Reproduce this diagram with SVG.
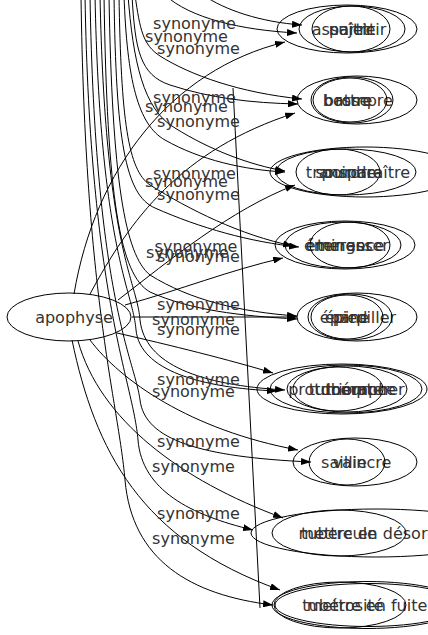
<svg xmlns="http://www.w3.org/2000/svg" width="428" height="635" viewBox="0 0 428 635">
<style>
  .n ellipse{fill:none;stroke:#000;stroke-width:1}
  .n text{font-family:"DejaVu Sans",sans-serif;font-size:16px;fill:#333;text-anchor:middle}
  .e path{fill:none;stroke:#000;stroke-width:1}
  .lbl text{font-family:"DejaVu Sans",sans-serif;font-size:16px;fill:#333;text-anchor:middle}
</style>
<defs>
  <marker id="ah" viewBox="0 0 10 7" refX="10" refY="3.5" markerWidth="10" markerHeight="7" markerUnits="userSpaceOnUse" orient="auto">
    <path d="M0,0 L10,3.5 L0,7 Z" fill="#000"/>
  </marker>
</defs>
<rect width="428" height="635" fill="#fff"/>
<g id="connectors" class="e">
  <path marker-end="url(#ah)" d="M165,-5 C190,18 240,30 297,33"/>
  <path marker-end="url(#ah)" d="M203,-5 C225,10 260,22 302,25"/>
  <path marker-end="url(#ah)" d="M74,294 C95,170 170,70 285,42"/>
  <path marker-end="url(#ah)" d="M135,-5 C140,30 143,45 160,56 C190,75 240,93 302,99"/>
  <path marker-end="url(#ah)" d="M132,-5 C135,50 140,75 170,85 C210,98 250,103 298,104"/>
  <path marker-end="url(#ah)" d="M90,294 C130,220 180,150 295,113"/>
  <path marker-end="url(#ah)" d="M128,-5 C133,60 143,110 175,128 C210,150 250,165 285,171"/>
  <path marker-end="url(#ah)" d="M124,-5 C127,80 138,125 165,140 C200,160 245,170 285,172"/>
  <path marker-end="url(#ah)" d="M118,300 C170,260 230,210 295,185"/>
  <path marker-end="url(#ah)" d="M119,-5 C121,120 128,170 150,185 C190,210 240,235 293,246"/>
  <path marker-end="url(#ah)" d="M114,-5 C116,140 125,195 155,208 C200,228 250,242 299,247"/>
  <path marker-end="url(#ah)" d="M125,305 C180,290 230,270 283,258"/>
  <path marker-end="url(#ah)" d="M132,317 L297,317"/>
  <path marker-end="url(#ah)" d="M109,-5 C112,180 125,255 150,275 C190,300 240,312 297,316"/>
  <path marker-end="url(#ah)" d="M104,-5 C107,200 120,275 150,292 C190,310 240,316 297,319"/>
  <path marker-end="url(#ah)" d="M117,333 C170,345 230,360 273,373"/>
  <path marker-end="url(#ah)" d="M100,-5 C105,250 137,280 140,320 C145,365 200,385 285,390"/>
  <path marker-end="url(#ah)" d="M95,-5 C100,250 133,290 136,330 C140,370 200,388 277,391"/>
  <path marker-end="url(#ah)" d="M90,340 C120,380 190,430 298,450"/>
  <path marker-end="url(#ah)" d="M90,-5 C95,300 135,360 140,400 C145,440 200,457 311,462"/>
  <path marker-end="url(#ah)" d="M78,341 C100,420 180,480 283,518"/>
  <path marker-end="url(#ah)" d="M85,-5 C90,300 133,380 138,440 C142,490 190,515 253,530"/>
  <path marker-end="url(#ah)" d="M72,340 C95,450 140,540 280,590"/>
  <path marker-end="url(#ah)" d="M81,-5 C85,300 118,400 125,480 C132,560 190,595 273,605"/>
  <path d="M233,88 L260,608" stroke-width="0.7"/>
</g>
<g id="edge-labels" class="lbl">
  <text x="194.5" y="29">synonyme</text>
  <text x="186.5" y="42">synonyme</text>
  <text x="198.5" y="53.5">synonyme</text>
  <text x="194.5" y="103">synonyme</text>
  <text x="186.5" y="112">synonyme</text>
  <text x="198.5" y="127">synonyme</text>
  <text x="194.5" y="178.5">synonyme</text>
  <text x="186.5" y="187">synonyme</text>
  <text x="198.5" y="200">synonyme</text>
  <text x="196" y="252">synonyme</text>
  <text x="187.5" y="258">synonyme</text>
  <text x="198.5" y="262">synonyme</text>
  <text x="198.5" y="310">synonyme</text>
  <text x="193.5" y="325">synonyme</text>
  <text x="198.5" y="335">synonyme</text>
  <text x="198.5" y="385">synonyme</text>
  <text x="193.5" y="396.5">synonyme</text>
  <text x="198.5" y="447">synonyme</text>
  <text x="193.5" y="472">synonyme</text>
  <text x="198.5" y="518.5">synonyme</text>
  <text x="193.5" y="543.5">synonyme</text>
</g>
<g id="node-apophyse" class="n"><ellipse cx="69" cy="317" rx="62" ry="24"/><text x="74" y="322.5">apophyse</text></g>
<g id="node-assujettir" class="n"><ellipse cx="347" cy="29" rx="70" ry="24"/><text x="349" y="34.5">assujettir</text></g>
<g id="node-naitre" class="n"><ellipse cx="352" cy="29" rx="53" ry="23"/><text x="352" y="34.5">naître</text></g>
<g id="node-partir" class="n"><ellipse cx="351" cy="29" rx="39" ry="23"/><text x="351" y="34.5">partir</text></g>
<g id="node-rompre" class="n"><ellipse cx="357" cy="100" rx="60" ry="24"/><text x="364" y="105.5">rompre</text></g>
<g id="node-bosse" class="n"><ellipse cx="352" cy="100" rx="41" ry="23"/><text x="346" y="105.5">bosse</text></g>
<g id="node-battre" class="n"><ellipse cx="350" cy="100" rx="37" ry="22"/><text x="348" y="105.5">battre</text></g>
<g id="node-transparaitre" class="n"><ellipse cx="365" cy="172" rx="95" ry="25"/><text x="358" y="177.5">transparaître</text></g>
<g id="node-sourdre" class="n"><ellipse cx="346" cy="172" rx="70" ry="23"/><text x="346" y="177.5">sourdre</text></g>
<g id="node-poindre" class="n"><ellipse cx="338" cy="172" rx="42" ry="23"/><text x="352" y="177.5">poindre</text></g>
<g id="node-eminence" class="n"><ellipse cx="345" cy="245" rx="70" ry="24"/><text x="345" y="250.5">éminence</text></g>
<g id="node-emerger" class="n"><ellipse cx="343" cy="245" rx="58" ry="23"/><text x="338" y="250.5">émerger</text></g>
<g id="node-terrasser" class="n"><ellipse cx="350" cy="245" rx="40" ry="23"/><text x="353" y="250.5">terrasser</text></g>
<g id="node-eparpiller" class="n"><ellipse cx="357" cy="317" rx="60" ry="24"/><text x="358" y="322.5">éparpiller</text></g>
<g id="node-pied" class="n"><ellipse cx="350" cy="317" rx="42" ry="23"/><text x="350" y="322.5">pied</text></g>
<g id="node-epine" class="n"><ellipse cx="347" cy="317" rx="36" ry="22"/><text x="347" y="322.5">épine</text></g>
<g id="node-protuberance" class="n"><ellipse cx="342" cy="389" rx="85" ry="25"/><text x="342" y="394.5">protubérance</text></g>
<g id="node-triompher" class="n"><ellipse cx="346" cy="389" rx="76" ry="24"/><text x="365" y="394.5">triompher</text></g>
<g id="node-dompter" class="n"><ellipse cx="347" cy="389" rx="60" ry="23"/><text x="355" y="394.5">dompter</text></g>
<g id="node-tumeur" class="n"><ellipse cx="338" cy="389" rx="45" ry="22"/><text x="338" y="394.5">tumeur</text></g>
<g id="node-vaincre" class="n"><ellipse cx="355" cy="462" rx="62" ry="24"/><text x="362" y="467.5">vaincre</text></g>
<g id="node-saillie" class="n"><ellipse cx="347" cy="462" rx="38" ry="23"/><text x="344" y="467.5">saillie</text></g>
<g id="node-mettre-en-desordre" class="n"><ellipse cx="376" cy="533" rx="125" ry="24"/><text x="376" y="538.5">mettre en désordre</text></g>
<g id="node-tubercule" class="n"><ellipse cx="339" cy="533" rx="67" ry="23"/><text x="339" y="538.5">tubercule</text></g>
<g id="node-mettre-en-fuite" class="n"><ellipse cx="367" cy="605" rx="95" ry="23.5"/><ellipse cx="368" cy="605" rx="93" ry="21.5"/><text x="367" y="610.5">mettre en fuite</text></g>
<g id="node-tuberosite" class="n"><ellipse cx="340" cy="605" rx="66" ry="23"/><text x="343" y="610.5">tubérosité</text></g>
</svg>
